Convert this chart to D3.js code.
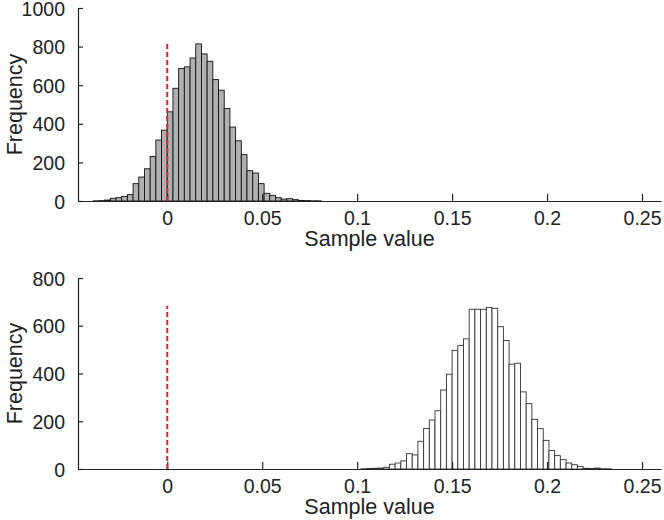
<!DOCTYPE html>
<html>
<head>
<meta charset="utf-8">
<script src="https://cdn.jsdelivr.net/npm/d3@7"></script>
<style>
  html, body { margin: 0; padding: 0; background: #fff; }
  svg { display: block; }
  text { font-family: Helvetica, Arial, "Liberation Sans", sans-serif; fill: #222; }
</style>
</head>
<body>
<svg id="chart" width="664" height="520"></svg>
<script>
// ---- data ----
const binWidth = 0.003;
const topStart = -0.039;
const topCounts = [1, 2, 5, 14, 17, 24, 33, 90, 124, 167, 231, 316, 367,
  462, 584, 686, 695, 741, 814, 762, 724, 629, 574, 479, 383, 312, 240, 157,
  145, 90, 40, 29, 17, 10, 12, 7, 3, 2, 1, 1];
const bottomStart = 0.102;
const bottomCounts = [1, 2, 3, 4, 7, 20, 25, 34, 64, 59, 116, 170, 205, 244,
  331, 397, 497, 518, 545, 669, 669, 669, 677, 673, 596, 538, 439, 443, 323,
  274, 208, 169, 120, 77, 56, 39, 25, 18, 11, 3, 2, 4, 1, 1];
const xDomain = [-0.047, 0.26];
const xTicks = [0, 0.05, 0.1, 0.15, 0.2, 0.25];
const xTickLabels = ["0", "0.05", "0.1", "0.15", "0.2", "0.25"];
const topYTicks = [0, 200, 400, 600, 800, 1000];
const bottomYTicks = [0, 200, 400, 600, 800];
const referenceValue = 0;
const xLabel = "Sample value";
const yLabel = "Frequency";

const svg = d3.select("#chart");

function panel(cfg) {
  const x = d3.scaleLinear().domain(xDomain).range([78, 661]);
  const y = d3.scaleLinear().domain([0, cfg.yMax]).range([cfg.y0, cfg.y1]);
  const g = svg.append("g");
  const bins = cfg.counts.map((c, i) => ({
    x0: cfg.start + i * binWidth,
    x1: cfg.start + (i + 1) * binWidth,
    c
  }));
  g.selectAll("rect.bar").data(bins).enter().append("rect")
    .attr("class", "bar")
    .attr("x", d => x(d.x0))
    .attr("width", d => x(d.x1) - x(d.x0))
    .attr("y", d => y(d.c))
    .attr("height", d => y(0) - y(d.c))
    .attr("fill", cfg.fill)
    .attr("stroke", cfg.stroke)
    .attr("stroke-width", 0.9);

  // x axis
  const xAxis = d3.axisBottom(x).tickValues(xTicks)
    .tickFormat((d, i) => xTickLabels[i]).tickSizeInner(-7).tickSizeOuter(0).tickPadding(10);
  const gx = g.append("g").attr("transform", `translate(0,${y(0)})`).call(xAxis);
  gx.select(".domain").attr("stroke", "#222").attr("stroke-width", 1.2);
  gx.selectAll(".tick line").attr("stroke", "#222").attr("stroke-width", 1.2);
  gx.selectAll(".tick text").attr("font-size", 19.5).attr("dy", 0).attr("y", 24)
    .style("dominant-baseline", "alphabetic");

  // y axis
  const yAxis = d3.axisLeft(y).tickValues(cfg.yTicks).tickFormat(d3.format("d"))
    .tickSizeInner(-5).tickSizeOuter(0).tickPadding(13);
  const gy = g.append("g").attr("transform", `translate(${x.range()[0]},0)`).call(yAxis);
  gy.select(".domain").attr("stroke", "#222").attr("stroke-width", 1.2);
  gy.selectAll(".tick line").attr("stroke", "#222").attr("stroke-width", 1.2);
  gy.selectAll(".tick text").attr("font-size", 19.5).attr("dy", "0.36em");

  // reference line
  g.append("line")
    .attr("x1", x(referenceValue)).attr("x2", x(referenceValue))
    .attr("y1", y(0)).attr("y2", y(d3.max(cfg.counts) * 1.01))
    .attr("stroke", "#d62a2a").attr("stroke-width", 2)
    .attr("stroke-dasharray", "5,3");

  g.append("text").attr("x", (x.range()[0] + x.range()[1]) / 2 + 0).attr("y", y(0) + 45)
    .attr("text-anchor", "middle").attr("font-size", 21.5).text(xLabel);
  g.append("text")
    .attr("transform", `translate(22,${(cfg.y0 + cfg.y1) / 2}) rotate(-90)`)
    .attr("text-anchor", "middle").attr("font-size", 21.5).text(yLabel);
}

panel({ counts: topCounts, start: topStart, yMax: 1000, y0: 201, y1: 8,
  yTicks: topYTicks, fill: "#b0b0b0", stroke: "#111" });
panel({ counts: bottomCounts, start: bottomStart, yMax: 800, y0: 469, y1: 278,
  yTicks: bottomYTicks, fill: "#ffffff", stroke: "#333" });
</script>
</body>
</html>
